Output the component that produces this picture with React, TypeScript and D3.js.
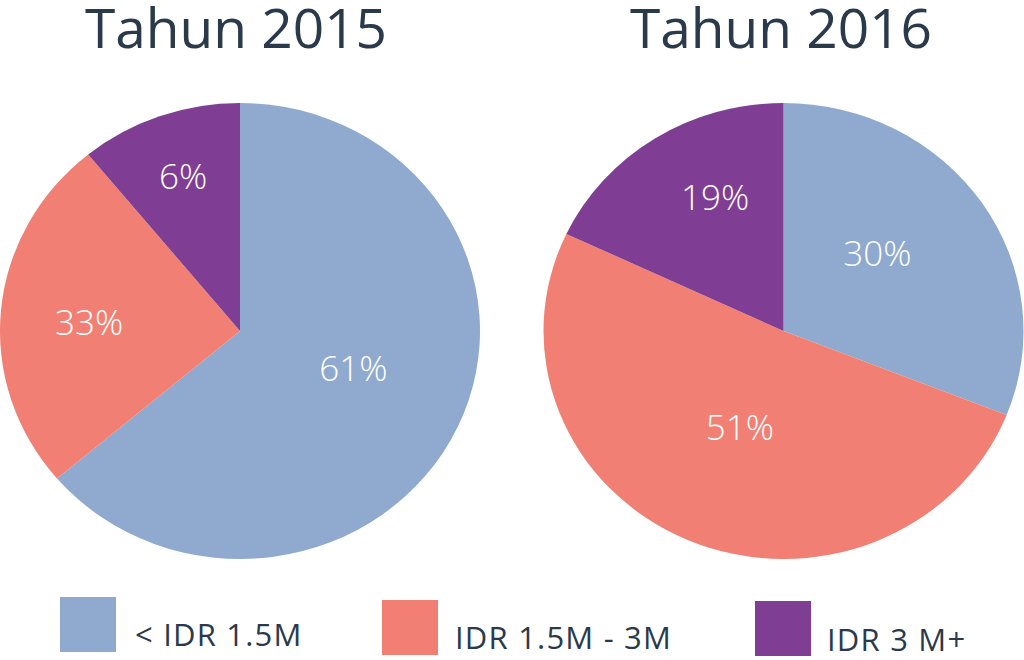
import React from "react";
import * as d3 from "d3";

const categories = ["< IDR 1.5M", "IDR 1.5M - 3M", "IDR 3 M+"];
const years = ["Tahun 2015", "Tahun 2016"];
// slice sizes as drawn in the picture (share of the circle)
const values2015 = [63.8, 25.3, 10.9];
const values2016 = [31.0, 51.0, 18.0];
// printed labels
const labels2015 = ["61%", "33%", "6%"];
const labels2016 = ["30%", "51%", "19%"];

const colors = ["#8FAACE", "#F27F73", "#7F3E94"];
const W = 1024;
const H = 660;
const R = 228;
const SX = 240 / 228;
const centers = [
  { x: 240, y: 331 },
  { x: 783.5, y: 331 },
];
// label placement: fraction of radius and angle (deg, clockwise from top)
const labelLayout = [
  [
    { r: 0.5, a: 109 },
    { r: 0.63, a: 273.3 },
    { r: 0.72, a: 340.8 },
  ],
  [
    { r: 0.52, a: 48.8 },
    { r: 0.46, a: 203.3 },
    { r: 0.65, a: 334 },
  ],
];
const legendLayout = [
  { x: 60, y: 597, tx: 135, ty: 646 },
  { x: 382, y: 600, tx: 455, ty: 649 },
  { x: 755, y: 601, tx: 827, ty: 651 },
];

export default function App() {
  const pie = d3.pie<number>().sort(null).value((d) => d);
  const arc = d3.arc<d3.PieArcDatum<number>>().innerRadius(0).outerRadius(R);
  const series = [values2015, values2016];
  const labels = [labels2015, labels2016];
  const font = "'Open Sans', 'Noto Sans', sans-serif";

  return (
    <svg
      width={W}
      height={H}
      style={{ position: "absolute", left: 0, top: 0, background: "#fff" }}
    >
      {series.map((vals, i) => {
        const arcs = pie(vals);
        const c = centers[i];
        return (
          <g key={i}>
            <g transform={`translate(${c.x},${c.y}) scale(${SX},1)`}>
              {arcs.map((a, j) => (
                <path key={j} d={arc(a) || ""} fill={colors[j]} />
              ))}
            </g>
            {labels[i].map((t, j) => {
              const L = labelLayout[i][j];
              const ang = (L.a * Math.PI) / 180;
              const x = c.x + Math.sin(ang) * L.r * R * SX;
              const y = c.y - Math.cos(ang) * L.r * R;
              return (
                <text
                  key={j}
                  x={x}
                  y={y}
                  dy="0.36em"
                  textAnchor="middle"
                  fill="#fff"
                  fontFamily={font}
                  fontWeight={300}
                  fontSize={35}
                >
                  {t}
                </text>
              );
            })}
            <text
              x={i === 0 ? 236 : 781}
              y={48}
              textAnchor="middle"
              fill="#2B3A4B"
              fontFamily={font}
              fontSize={55}
            >
              {years[i]}
            </text>
          </g>
        );
      })}
      {categories.map((cat, j) => {
        const L = legendLayout[j];
        return (
          <g key={cat}>
            <rect x={L.x} y={L.y} width={56} height={55} fill={colors[j]} />
            <text
              x={L.tx}
              y={L.ty}
              fill="#2B3A4B"
              fontFamily={font}
              fontSize={31}
              letterSpacing={1.2}
            >
              {cat}
            </text>
          </g>
        );
      })}
    </svg>
  );
}
